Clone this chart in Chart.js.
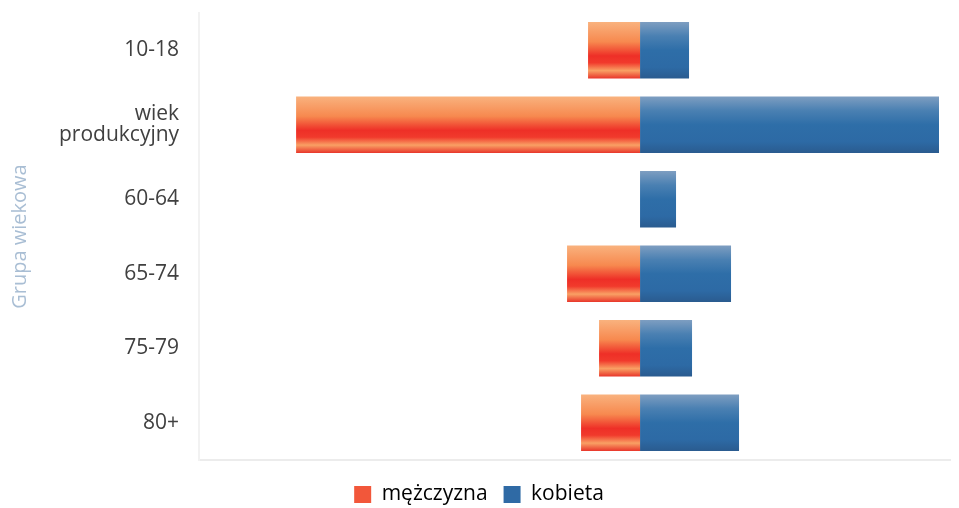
<!DOCTYPE html>
<html lang="pl">
<head>
<meta charset="utf-8">
<title>Grupa wiekowa</title>
<script src="https://cdn.jsdelivr.net/npm/chart.js@4/dist/chart.umd.min.js"></script>
<style>
  html, body { margin: 0; padding: 0; background: #fff; }
  #wrap { width: 959px; height: 508px; position: relative; }
</style>
</head>
<body>
<div id="wrap"><canvas id="chart-wiek"></canvas></div>
<script>
/* Piramida: mężczyźni w lewo (wartości ujemne), kobiety w prawo */
const categories = ['10-18', ['wiek', 'produkcyjny'], '60-64', '65-74', '75-79', '80+'];
const mezczyzna = [-52, -344, 0, -73, -41, -59];
const kobieta = [49, 299, 36, 91, 52, 99];
const xMin = -441;
const xMax = 310;

const BAR_PCT = 0.76;

const orangeStops = [[0, '#f9b27e'], [0.35, '#f7894f'], [0.6, '#ee2f27'], [0.72, '#f13a2c'], [0.86, '#f9a064'], [1, '#e8352a']];
const blueStops = [[0, '#7e9ec1'], [0.25, '#4a80b2'], [0.5, '#2e6ea8'], [0.8, '#2d6aa5'], [1, '#2a5b8f']];

// gradient liczony od położenia słupka na osi y
function barGradient(ctx, stops) {
  const chart = ctx.chart;
  const y = chart.scales && chart.scales.y;
  if (!chart.chartArea || !y || ctx.dataIndex === undefined) return stops[2][1];
  const yc = y.getPixelForValue(ctx.dataIndex);
  const step = Math.abs(y.getPixelForValue(1) - y.getPixelForValue(0));
  const half = step * BAR_PCT / 2;
  const g = chart.ctx.createLinearGradient(0, yc - half, 0, yc + half);
  stops.forEach(s => g.addColorStop(s[0], s[1]));
  return g;
}

new Chart(document.getElementById('chart-wiek'), {
  type: 'bar',
  data: {
    labels: categories,
    datasets: [
      {
        label: 'mężczyzna',
        data: mezczyzna,
        backgroundColor: (ctx) => barGradient(ctx, orangeStops),
        barPercentage: BAR_PCT,
        categoryPercentage: 1
      },
      {
        label: 'kobieta',
        data: kobieta,
        backgroundColor: (ctx) => barGradient(ctx, blueStops),
        barPercentage: BAR_PCT,
        categoryPercentage: 1
      }
    ]
  },
  options: {
    responsive: true,
    maintainAspectRatio: false,
    animation: false,
    indexAxis: 'y',
    layout: { padding: { top: 13, right: 9, left: 8, bottom: -7 } },
    plugins: {
      legend: {
        position: 'bottom',
        labels: {
          font: { family: "'Open Sans', sans-serif", size: 21 },
          color: '#555',
          boxWidth: 17,
          boxHeight: 17,
          padding: 16,
          generateLabels: (chart) => [
            { text: 'mężczyzna', fillStyle: '#f2573a', strokeStyle: '#f2573a', lineWidth: 0, datasetIndex: 0 },
            { text: 'kobieta', fillStyle: '#2f6aa5', strokeStyle: '#2f6aa5', lineWidth: 0, datasetIndex: 1 }
          ]
        }
      },
      tooltip: { enabled: false }
    },
    scales: {
      x: {
        stacked: true,
        min: xMin,
        max: xMax,
        grid: { display: false },
        border: { color: '#ececec', width: 2 },
        ticks: { display: false }
      },
      y: {
        stacked: true,
        grid: { display: false },
        border: { color: '#f2f2f2', width: 2 },
        afterFit: (scale) => { scale.paddingTop = 0; scale.paddingBottom = 0; },
        title: {
          display: true,
          text: 'Grupa wiekowa',
          color: '#a9bed4',
          font: { family: "'Open Sans', sans-serif", size: 20 },
          padding: { top: 0, bottom: 15 }
        },
        ticks: {
          color: '#404040',
          padding: 12,
          font: { family: "'Open Sans', sans-serif", size: 21, lineHeight: 1.0 }
        }
      }
    }
  }
});
</script>
</body>
</html>
